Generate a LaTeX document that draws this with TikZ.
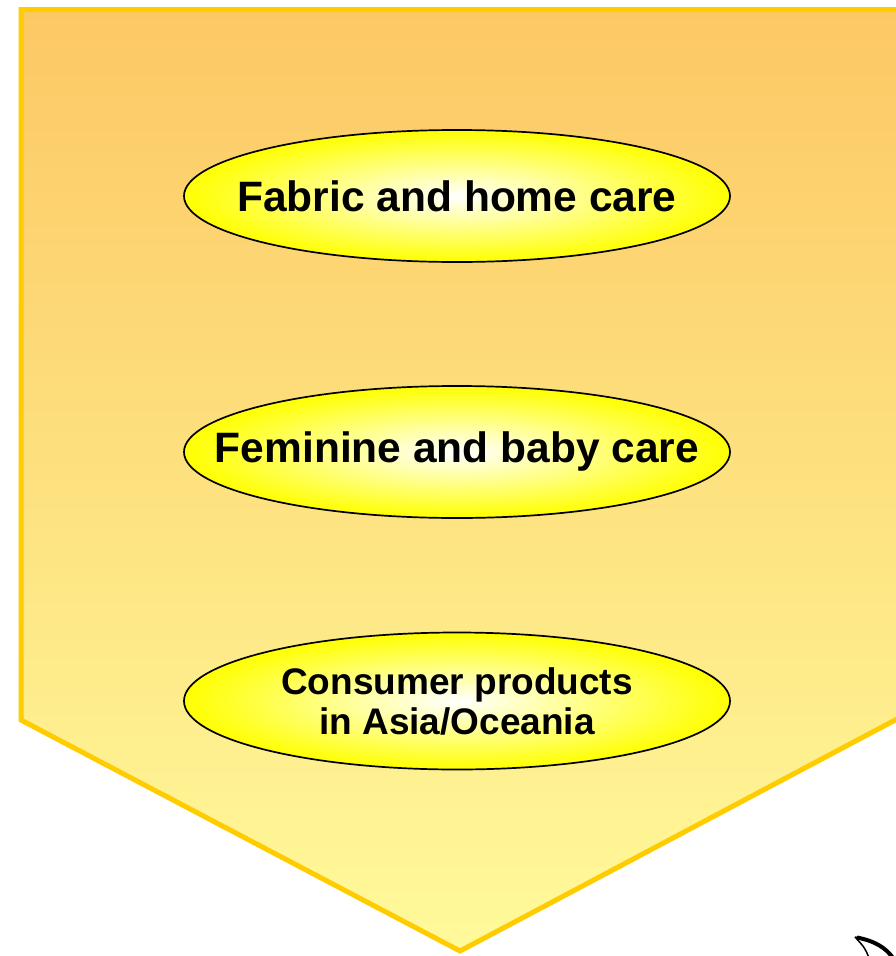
\documentclass[tikz,border=0pt]{standalone}
\usepackage{fontspec}
\setmainfont{Liberation Sans}
\usetikzlibrary{shapes.geometric}
\definecolor{frameedge}{RGB}{255,204,0}
\definecolor{paneltop}{RGB}{252,200,100}
\definecolor{panelbottom}{RGB}{255,250,155}
\definecolor{pillyellow}{RGB}{255,255,0}
\tikzset{
  pill/.style={ellipse, draw=black, line width=1.7pt, inner color=white, outer color=pillyellow,
    minimum width=546pt, minimum height=132pt, inner sep=0pt},
  pilltext/.style={align=center, inner sep=0pt, font=\fontsize{42.5}{48}\selectfont\bfseries},
  pilltextsmall/.style={pilltext, font=\fontsize{37}{40}\selectfont\bfseries}
}
\begin{document}
\begin{tikzpicture}[x=1pt,y=-1pt]
\useasboundingbox (0,0) rectangle (895,956);
% chevron-shaped panel
\path[top color=paneltop, bottom color=panelbottom]
  (21,9.5) -- (899,9.5) -- (899,718) -- (460,951) -- (21,720) -- cycle;
\draw[frameedge, line width=5pt, line join=miter]
  (21,9.5) -- (899,9.5) -- (899,718) -- (460,951) -- (21,720) -- cycle;
% category ellipses
\node[pill] (fabric) at (457,196) {};
\node[pilltext] (fabrictext) at (fabric.center) {Fabric and home care};
\node[pill] (feminine) at (457,452) {};
\node[pilltext] (femininetext) at (feminine.center) {Feminine and baby care};
\node[pill, minimum height=137pt] (consumer) at (457,701) {};
\node[pilltextsmall] (consumertext) at (consumer.center) {Consumer products\\in Asia/Oceania};
% curved arrow peeking in at the corner
\coordinate (hooktip) at (855,937);
\coordinate (hookout) at (893,958);
\coordinate (hookin) at (869,958);
\filldraw[fill=white, draw=black, line width=1.5pt, line join=round]
  (hooktip) .. controls (875,940) and (887,948) .. (hookout) -- (hookin) .. controls (865,948) .. (hooktip);
\draw[black, line width=4pt] (857,937.5) .. controls (875,941) and (886,948) .. (hookout);
\end{tikzpicture}
\end{document}
